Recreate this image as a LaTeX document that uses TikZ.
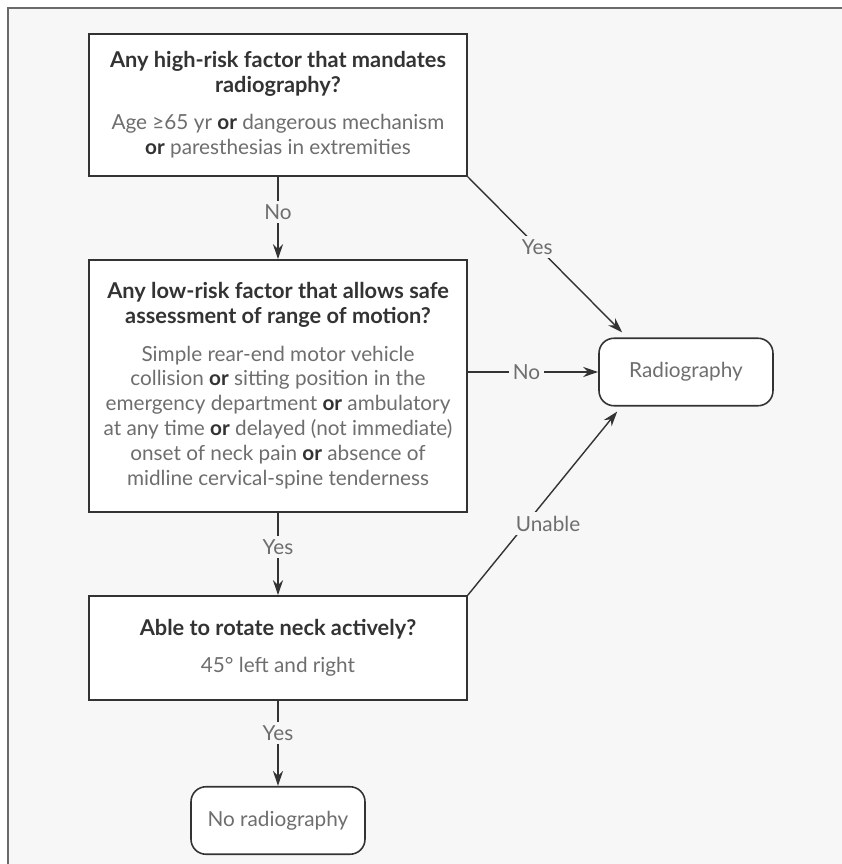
\documentclass[tikz,border=0pt]{standalone}
\usepackage{fontspec}
\setmainfont{Lato}
\usetikzlibrary{arrows.meta,calc}
\definecolor{bggray}{HTML}{F7F7F7}
\definecolor{framegray}{HTML}{6A6A6A}
\definecolor{inkdark}{HTML}{333333}
\definecolor{inklight}{HTML}{6E6E6E}
\def\qtitle#1{{\fontsize{12.4}{14.2}\selectfont\bfseries\color{inkdark}#1}}
\def\OR{\textbf{\color{inkdark}or}}

\tikzset{
  question/.style={draw=inkdark, line width=0.9pt, fill=white, minimum width=7.56cm,
    align=center, text=inklight, font=\fontsize{11.8}{14.2}\selectfont},
  outcome/.style={draw=inkdark, line width=0.9pt, fill=white, rounded corners=0.3cm,
    minimum width=3.48cm, minimum height=1.35cm, text=inklight, font=\fontsize{11.8}{14.2}\selectfont},
  flow/.style={draw=inkdark, line width=0.8pt, -{Stealth[length=0.3cm,width=0.2cm]}},
  answer/.style={fill=bggray, text=inklight, font=\fontsize{11.8}{14.2}\selectfont, inner sep=2pt},
}

\begin{document}
\begin{tikzpicture}
			%%%%% START %%%%%
			\useasboundingbox (0, 0) rectangle (16.84, 17.28);
			\fill[white] (0, 0) rectangle (16.84, 17.28);
			\fill[bggray] (0.16, 0) rectangle (16.84, 17.12);
			\draw[framegray, line width=1.4pt] (0.16, 0) -- (0.16, 17.12) -- (16.84, 17.12);
			
			\node[question, minimum height=2.84cm] (risk) at (5.56, 15.18) {%
				\qtitle{Any high-risk factor that mandates}\\
				\qtitle{radiography?}\\[7pt]
				Age ≥65 yr \OR{} dangerous mechanism\\
				\OR{} paresthesias in extremities};
			
			\node[question, minimum height=5.04cm] (lowrisk) at (5.56, 9.56) {%
				\qtitle{Any low-risk factor that allows safe}\\
				\qtitle{assessment of range of motion?}\\[7pt]
				Simple rear-end motor vehicle\\
				collision \OR{} sitting position in the\\
				emergency department \OR{} ambulatory\\
				at any time \OR{} delayed (not immediate)\\
				onset of neck pain \OR{} absence of\\
				midline cervical-spine tenderness};
			
			\node[question, minimum height=2.08cm] (rotate) at (5.56, 4.32) {%
				\qtitle{Able to rotate neck actively?}\\[7pt]
				45° left and right};
			
			\node[outcome] (radio) at (13.72, 9.84) {Radiography};
			\node[outcome] (noradio) at (5.56, 0.87) {No radiography};
			
			\coordinate (radtop) at ($(radio.north west)+(0.48, 0.1)$);
			\coordinate (radbot) at ($(radio.south west)+(0.38, -0.1)$);
			
			\draw[flow] (risk) -- node[answer, pos=0.43] {No} (lowrisk);
			\draw[flow] (lowrisk) -- node[answer, pos=0.42] {Yes} (rotate);
			\draw[flow] (rotate) -- node[answer, pos=0.38] {Yes} (noradio);
			
			\draw[flow] (risk.south east) -- node[answer, pos=0.45] {Yes} (radtop);
			\draw[flow] (lowrisk.east |- radio.west) -- node[answer, pos=0.45] {No} (radio.west);
			\draw[flow] (rotate.north east) -- node[answer, pos=0.39, xshift=0.44cm] {Unable} (radbot);
			%%%%% END %%%%%
\end{tikzpicture}
\end{document}
